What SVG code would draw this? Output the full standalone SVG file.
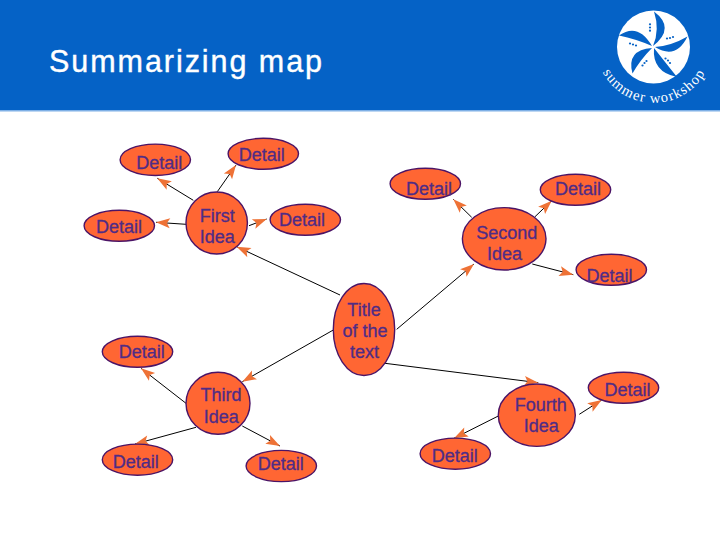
<svg xmlns="http://www.w3.org/2000/svg" width="720" height="540" viewBox="0 0 720 540">
<style>
.n{fill:#FF6633;stroke:#4B1466;stroke-width:1.4}
.t{font-family:"Liberation Sans",Arial,sans-serif;font-size:18px;fill:#4F2C86;stroke:#4F2C86;stroke-width:.3;text-anchor:middle}
.c{stroke:#000;stroke-width:1;fill:none;marker-end:url(#a)}
.b{fill:#0562C6}
.d{fill:#0562C6}
</style>
<defs>
<marker id="a" markerUnits="userSpaceOnUse" markerWidth="16" markerHeight="12" viewBox="0 -6 16 12" refX="15" refY="0" orient="auto">
<path d="M15,0 L1,-5 L4,0 L1,5 Z" fill="#EE7236"/>
</marker>
</defs>
<rect width="720" height="540" fill="#fff"/>
<g id="header">
<rect width="720" height="110" fill="#0562C6"/>
<rect y="110" width="720" height="1.5" fill="#7FB0E6"/>
<text x="49" y="72" font-family="'Liberation Sans',Arial,sans-serif" font-size="30.5" letter-spacing="1.95" fill="#fff" stroke="#fff" stroke-width=".4">Summarizing map</text>
</g>
<g id="logo">
<circle cx="653.5" cy="47" r="36.5" fill="#fff"/>
<path class="b" d="M653,46 Q676,28 654,11.5 Q660,30 653,46Z"/>
<path class="b" d="M655,47 Q676,60 687.5,36.5 Q671,46 655,47Z"/>
<path class="b" d="M654,48 Q652,72 677,77 Q665,62 654,48Z"/>
<path class="b" d="M652,48 Q626,50 632.5,73.5 Q640,60 652,48Z"/>
<path class="b" d="M652,46 Q638,22 619,35.5 Q636,39 652,46Z"/>
<g class="d">
<circle cx="650" cy="24.3" r="1.1"/><circle cx="650" cy="27.5" r="1.1"/><circle cx="650" cy="30.7" r="1.1"/>
<circle cx="667" cy="38.5" r="1.1"/><circle cx="670" cy="38" r="1.1"/><circle cx="673" cy="37" r="1.1"/>
<circle cx="665.5" cy="58.5" r="1.1"/><circle cx="668" cy="60.5" r="1.1"/><circle cx="670" cy="63" r="1.1"/>
<circle cx="642.5" cy="65.5" r="1.1"/><circle cx="644.5" cy="63" r="1.1"/><circle cx="646.5" cy="61" r="1.1"/>
<circle cx="630" cy="43.5" r="1.1"/><circle cx="633" cy="44.5" r="1.1"/><circle cx="636" cy="45.5" r="1.1"/>
</g>
<path id="arc" d="M596,52 A58.5,58.5 0 0 0 712,52" fill="none"/>
<text font-family="'Liberation Serif',serif" font-size="14.5" letter-spacing="1.2" fill="#fff"><textPath href="#arc" startOffset="50%" text-anchor="middle">summer workshop</textPath></text>
</g>
<g id="connectors">
<line class="c" x1="193.3" y1="200.3" x2="157.3" y2="178.3"/>
<line class="c" x1="217.3" y1="191.7" x2="236" y2="165"/>
<line class="c" x1="186" y1="224.3" x2="156" y2="222.3"/>
<line class="c" x1="249" y1="225.7" x2="266.7" y2="219"/>
<line class="c" x1="340" y1="295" x2="236.7" y2="246.7"/>
<line class="c" x1="396.7" y1="329.3" x2="474" y2="264"/>
<line class="c" x1="471.7" y1="217.3" x2="453.3" y2="199.3"/>
<line class="c" x1="535" y1="216.7" x2="551.7" y2="200.7"/>
<line class="c" x1="532.3" y1="264" x2="573.3" y2="274.7"/>
<line class="c" x1="333.3" y1="330" x2="242.3" y2="381.7"/>
<line class="c" x1="186" y1="403.3" x2="141" y2="368.3"/>
<line class="c" x1="196" y1="427.3" x2="135" y2="444"/>
<line class="c" x1="242.3" y1="426" x2="280" y2="446"/>
<line class="c" x1="385" y1="363.3" x2="538.3" y2="382.7"/>
<line class="c" x1="579.3" y1="414.3" x2="601.7" y2="400"/>
<line class="c" x1="498.3" y1="416" x2="454" y2="438.3"/>
</g>
<g id="title-node"><ellipse class="n" cx="364" cy="329.5" rx="30.7" ry="46"/><text class="t"><tspan x="364" y="316">Title</tspan><tspan x="365" y="336.7">of the</tspan><tspan x="364.5" y="357.7">text</tspan></text></g>
<g id="first-idea"><ellipse class="n" cx="216.7" cy="223" rx="30.7" ry="31"/><text class="t"><tspan x="217.3" y="221.7">First</tspan><tspan x="217.3" y="242.7">Idea</tspan></text></g>
<g id="second-idea"><ellipse class="n" cx="504.2" cy="238.8" rx="41.8" ry="31.2"/><text class="t"><tspan x="506.7" y="238.7">Second</tspan><tspan x="504.5" y="259.7">Idea</tspan></text></g>
<g id="third-idea"><ellipse class="n" cx="218" cy="403.3" rx="32" ry="31"/><text class="t"><tspan x="221" y="401">Third</tspan><tspan x="221.3" y="422.7">Idea</tspan></text></g>
<g id="fourth-idea"><ellipse class="n" cx="536.8" cy="415.2" rx="38.5" ry="31.2"/><text class="t"><tspan x="540.8" y="411">Fourth</tspan><tspan x="541.3" y="431.7">Idea</tspan></text></g>
<g id="detail-1"><ellipse class="n" cx="155.3" cy="159.8" rx="35.2" ry="15.7"/><text class="t" x="159.3" y="169">Detail</text></g>
<g id="detail-2"><ellipse class="n" cx="263.3" cy="153.8" rx="35.2" ry="15.5"/><text class="t" x="261.7" y="160.7">Detail</text></g>
<g id="detail-3"><ellipse class="n" cx="119.3" cy="225.8" rx="35.2" ry="15.5"/><text class="t" x="119" y="233.3">Detail</text></g>
<g id="detail-4"><ellipse class="n" cx="305.3" cy="219.8" rx="35.2" ry="15.5"/><text class="t" x="302" y="225.7">Detail</text></g>
<g id="detail-5"><ellipse class="n" cx="425.3" cy="183.8" rx="35.2" ry="15.5"/><text class="t" x="429" y="195">Detail</text></g>
<g id="detail-6"><ellipse class="n" cx="575.5" cy="189.8" rx="35.2" ry="15.5"/><text class="t" x="578" y="195">Detail</text></g>
<g id="detail-7"><ellipse class="n" cx="611.3" cy="269.8" rx="35.2" ry="15.5"/><text class="t" x="609.5" y="281.7">Detail</text></g>
<g id="detail-8"><ellipse class="n" cx="137.5" cy="351.8" rx="35.2" ry="15.5"/><text class="t" x="141.7" y="358.3">Detail</text></g>
<g id="detail-9"><ellipse class="n" cx="137.5" cy="459.7" rx="35.2" ry="15.6"/><text class="t" x="135.8" y="467.7">Detail</text></g>
<g id="detail-10"><ellipse class="n" cx="281.3" cy="466" rx="35.2" ry="15.6"/><text class="t" x="280.8" y="470">Detail</text></g>
<g id="detail-11"><ellipse class="n" cx="623.5" cy="387.8" rx="35.2" ry="15.5"/><text class="t" x="627.5" y="395.7">Detail</text></g>
<g id="detail-12"><ellipse class="n" cx="455.3" cy="453.7" rx="35.2" ry="15.6"/><text class="t" x="454.8" y="461.7">Detail</text></g>
</svg>
